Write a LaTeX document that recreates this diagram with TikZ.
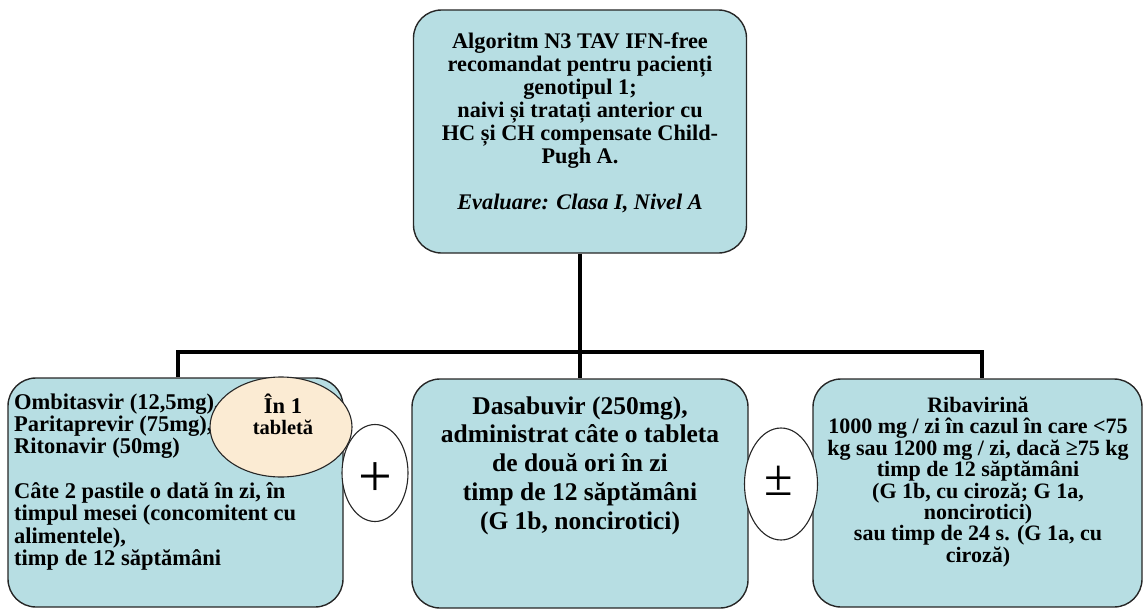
\documentclass[tikz,border=0pt]{standalone}
\usepackage{fontspec}
\setmainfont{Liberation Serif}
\usetikzlibrary{shapes.geometric}
\definecolor{boxfill}{HTML}{B7DEE3}
\definecolor{tabfill}{HTML}{FBEBD3}
\definecolor{edge}{HTML}{262626}
\begin{document}
\begin{tikzpicture}[x=1pt,y=-1pt,
  card/.style={rectangle, draw=edge, line width=1.4pt, fill=boxfill,
    rounded corners=28pt, inner sep=0pt},
  oval/.style={ellipse, draw=edge, line width=1.1pt, fill=white, inner sep=0pt},
  bus/.style={line width=4.5pt, black},
  label/.style={inner sep=0pt, text=black}]
\useasboundingbox (0,0) rectangle (1143,610);

% boxes
\node[card, minimum width=333pt, minimum height=243pt] (T) at (580,131.5) {};
\node[card, minimum width=335pt, minimum height=229pt] (L) at (175.5,492.5) {};
\node[card, minimum width=336pt, minimum height=229pt] (C) at (580,493.5) {};
\node[card, minimum width=329pt, minimum height=228pt] (R) at (977.5,493) {};

% connectors
\coordinate (J) at (580,352);
\draw[bus] (T.south) -- (C.north);
\draw[bus] ([xshift=2.5pt]L.north) -- ([xshift=2.5pt]L.north |- J)
  -- ([xshift=4.5pt]R.north |- J) -- ([xshift=4.5pt]R.north);

% box texts
\node[label, align=center, font=\fontsize{22.3}{23}\selectfont\bfseries] (Tt) at (580,122.5)
  {Algoritm N3 TAV IFN-free\\
   recomandat pentru pacienți\\
   genotipul 1;\\
   naivi și tratați anterior cu\\
   HC și CH compensate Child-\\
   Pugh A.\\[23pt]
   \textit{Evaluare: Clasa I, Nivel A}};

\node[label, anchor=west, align=left, font=\fontsize{22.5}{22.3}\selectfont\bfseries] (Lt) at (14,482)
  {Ombitasvir (12,5mg),\\
   Paritaprevir (75mg),\\
   Ritonavir (50mg)\\[22.3pt]
   Câte 2 pastile o dată în zi, în\\
   timpul mesei (concomitent cu\\
   alimentele),\\
   timp de 12 săptămâni};

\node[label, align=center, font=\fontsize{25.5}{28.75}\selectfont\bfseries] (Ct) at (580,465.5)
  {Dasabuvir (250mg),\\
   administrat câte o tableta\\
   de două ori în zi\\
   timp de 12 săptămâni\\
   (G 1b, noncirotici)};

\node[label, align=center, font=\fontsize{22}{21.4}\selectfont\bfseries] (Rt) at (978,482)
  {Ribavirină\\
   1000 mg / zi în cazul în care <75\\
   kg sau 1200 mg / zi, dacă ≥75 kg\\
   timp de 12 săptămâni\\
   (G 1b, cu ciroză; G 1a,\\
   noncirotici)\\
   sau timp de 24 s. (G 1a, cu\\
   ciroză)};

% ovals
\node[oval, fill=tabfill, minimum width=142pt, minimum height=100pt] (tab) at (281,427) {};
\node[label, font=\fontsize{22.5}{23}\selectfont\bfseries] (tabt1) at (283,404) {În 1};
\node[label, font=\fontsize{20.5}{23}\selectfont\bfseries] (tabt2) at (283,427) {tabletă};
\node[oval, minimum width=66pt, minimum height=97pt] (plus) at (375,473) {};
\node[label, font=\fontsize{60}{60}\selectfont] (plust) at (375,480) {+};
\node[oval, minimum width=73pt, minimum height=112pt] (pm) at (781,484) {};
\node[label, font=\fontsize{52}{52}\selectfont] (pmt) at (779,481) {±};
\end{tikzpicture}
\end{document}
